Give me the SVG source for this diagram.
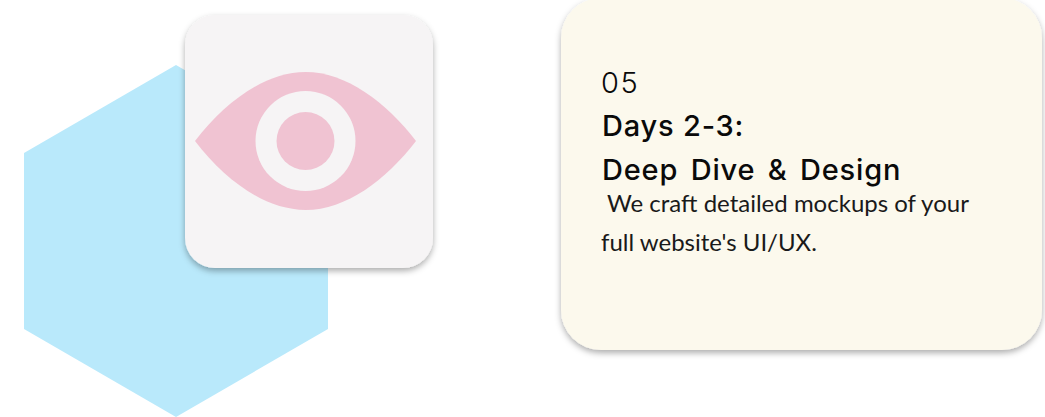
<svg xmlns="http://www.w3.org/2000/svg" width="1045" height="417" viewBox="0 0 1045 417">
<defs>
<filter id="sh" x="-10%" y="-10%" width="120%" height="120%"><feDropShadow dx="0" dy="3" stdDeviation="3" flood-color="#000" flood-opacity="0.32"/></filter>
</defs>
<style>
.h{font-family:"Inter","Liberation Sans",sans-serif;font-weight:500;font-size:29px;letter-spacing:0.8px;fill:#0a0a0a}
.b{font-family:"Lato","Liberation Sans",sans-serif;font-size:24px;fill:#1a1a1a}
</style>
<rect width="1045" height="417" fill="#fff"/>
<g id="hexagon"><polygon points="176,65 328,153 328,329 176,417 24,329 24,153" fill="#b9e9fb"/></g>
<g id="icon-card">
<rect x="185" y="15" width="248" height="253" rx="30" fill="#f6f4f5" filter="url(#sh)"/>
<path d="M195 141C225 102 265 72 305.500 72C346 72 386 102 416 141C386 180 346 210 305.500 210C265 210 225 180 195 141Z" fill="#f0c3d2"/>
<circle cx="305.500" cy="141" r="50" fill="#f6f4f5"/>
<circle cx="305.500" cy="141" r="29" fill="#f0c3d2"/>
</g>
<g id="text-card">
<rect x="561" y="-2" width="481" height="352" rx="40" fill="#fcf9ed" filter="url(#sh)"/>
<text x="601" y="93" font-family="Inter,'Liberation Sans',sans-serif" font-size="29" font-weight="300" letter-spacing="1.5" fill="#0a0a0a">05</text>
<text class="h" x="602" y="136">Days 2-3:</text>
<text class="h" x="602" y="180" word-spacing="4">Deep Dive &amp; Design</text>
<text class="b" x="607" y="212">We craft detailed mockups of your</text>
<text class="b" x="601" y="251">full website's UI/UX.</text>
</g>
<g id="connectors"/>
</svg>
